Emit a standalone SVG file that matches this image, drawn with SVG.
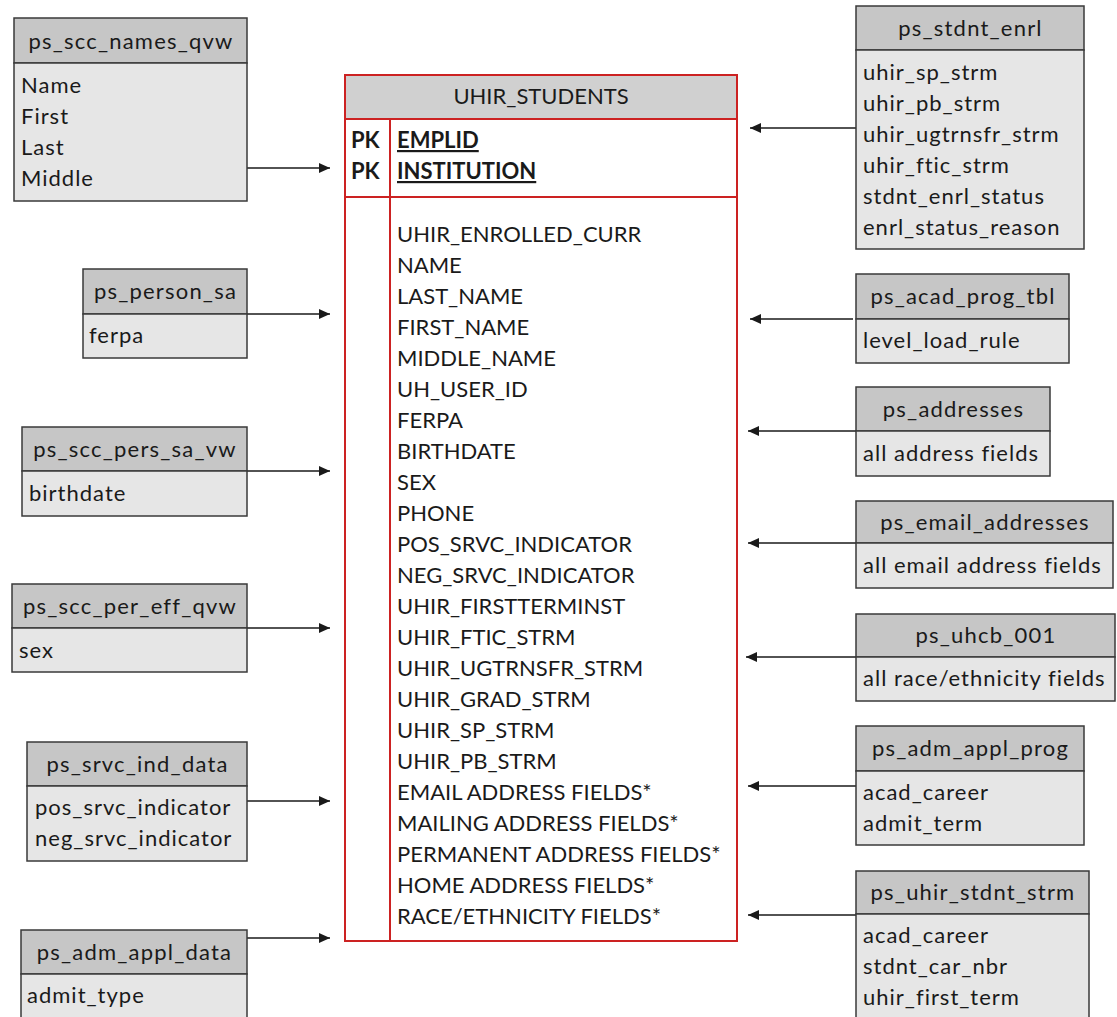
<svg xmlns="http://www.w3.org/2000/svg" width="1117" height="1017" viewBox="0 0 1117 1017">
<style>
text{font-family:Lato,"Liberation Sans",sans-serif;font-size:22px;fill:#1a1a1a}
.hd{fill:#c6c6c6;stroke:#3a3a3a;stroke-width:1.5}
.bd{fill:#e6e6e6;stroke:#3a3a3a;stroke-width:1.5}
.ht{text-anchor:middle}
.lh{letter-spacing:1.2px}
.lb{letter-spacing:1px}
.red{fill:none;stroke:#cc2222;stroke-width:2}
.b{font-weight:bold}
.u{text-decoration:underline}
.c{stroke:#1a1a1a;stroke-width:1.5;fill:none;marker-end:url(#ah)}
</style>
<defs>
<marker id="ah" markerUnits="userSpaceOnUse" markerWidth="12" markerHeight="10" refX="11" refY="5" orient="auto">
<path d="M0,0 L11,5 L0,10 z" fill="#1a1a1a"/>
</marker>
</defs>
<rect width="1117" height="1017" fill="#ffffff"/>

<g id="connectors">
<line class="c" x1="247" y1="168" x2="330" y2="168"/>
<line class="c" x1="247" y1="314" x2="330" y2="314"/>
<line class="c" x1="247" y1="471" x2="330" y2="471"/>
<line class="c" x1="247" y1="628" x2="330" y2="628"/>
<line class="c" x1="247" y1="801" x2="330" y2="801"/>
<line class="c" x1="247" y1="938" x2="330" y2="938"/>
<line class="c" x1="856" y1="128" x2="750" y2="128"/>
<line class="c" x1="853" y1="319" x2="750" y2="319"/>
<line class="c" x1="856" y1="431" x2="748" y2="431"/>
<line class="c" x1="856" y1="543" x2="748" y2="543"/>
<line class="c" x1="856" y1="657" x2="746" y2="657"/>
<line class="c" x1="856" y1="786" x2="748" y2="786"/>
<line class="c" x1="856" y1="915" x2="748" y2="915"/>
</g>

<g id="uhir_students">
<rect x="345" y="75" width="392" height="44" fill="#d0d0d0"/>
<rect x="345" y="119" width="392" height="822" fill="#ffffff"/>
<rect class="red" x="345" y="75" width="392" height="866"/>
<line class="red" x1="345" y1="119" x2="737" y2="119"/>
<line class="red" x1="345" y1="197" x2="737" y2="197"/>
<line class="red" x1="390" y1="119" x2="390" y2="941"/>
<text class="ht" x="541" y="104">UHIR_STUDENTS</text>
<text class="b" x="351" y="148">PK</text>
<text class="b" x="351" y="179">PK</text>
<text class="b u" x="397" y="148">EMPLID</text>
<text class="b u" x="397" y="179">INSTITUTION</text>
<text x="397" y="242">UHIR_ENROLLED_CURR</text>
<text x="397" y="273">NAME</text>
<text x="397" y="304">LAST_NAME</text>
<text x="397" y="335">FIRST_NAME</text>
<text x="397" y="366">MIDDLE_NAME</text>
<text x="397" y="397">UH_USER_ID</text>
<text x="397" y="428">FERPA</text>
<text x="397" y="459">BIRTHDATE</text>
<text x="397" y="490">SEX</text>
<text x="397" y="521">PHONE</text>
<text x="397" y="552">POS_SRVC_INDICATOR</text>
<text x="397" y="583">NEG_SRVC_INDICATOR</text>
<text x="397" y="614">UHIR_FIRSTTERMINST</text>
<text x="397" y="645">UHIR_FTIC_STRM</text>
<text x="397" y="676">UHIR_UGTRNSFR_STRM</text>
<text x="397" y="707">UHIR_GRAD_STRM</text>
<text x="397" y="738">UHIR_SP_STRM</text>
<text x="397" y="769">UHIR_PB_STRM</text>
<text x="397" y="800">EMAIL ADDRESS FIELDS*</text>
<text x="397" y="831">MAILING ADDRESS FIELDS*</text>
<text x="397" y="862">PERMANENT ADDRESS FIELDS*</text>
<text x="397" y="893">HOME ADDRESS FIELDS*</text>
<text x="397" y="924">RACE/ETHNICITY FIELDS*</text>
</g>

<g id="ps_scc_names_qvw">
<rect class="hd" x="14" y="18" width="233" height="45"/>
<rect class="bd" x="14" y="63" width="233" height="138"/>
<text class="ht lh" x="131" y="49">ps_scc_names_qvw</text>
<text class="lb" x="21" y="93">Name</text>
<text class="lb" x="21" y="124">First</text>
<text class="lb" x="21" y="155">Last</text>
<text class="lb" x="21" y="186">Middle</text>
</g>

<g id="ps_person_sa">
<rect class="hd" x="83" y="269" width="164" height="45"/>
<rect class="bd" x="83" y="314" width="164" height="44"/>
<text class="ht lh" x="165.5" y="299">ps_person_sa</text>
<text class="lb" x="89" y="343">ferpa</text>
</g>

<g id="ps_scc_pers_sa_vw">
<rect class="hd" x="22" y="427" width="225" height="44"/>
<rect class="bd" x="22" y="471" width="225" height="45"/>
<text class="ht lh" x="135" y="457">ps_scc_pers_sa_vw</text>
<text class="lb" x="29" y="501">birthdate</text>
</g>

<g id="ps_scc_per_eff_qvw">
<rect class="hd" x="12" y="584" width="235" height="44"/>
<rect class="bd" x="12" y="628" width="235" height="44"/>
<text class="ht lh" x="130" y="614">ps_scc_per_eff_qvw</text>
<text class="lb" x="19" y="658">sex</text>
</g>

<g id="ps_srvc_ind_data">
<rect class="hd" x="27" y="742" width="220" height="44"/>
<rect class="bd" x="27" y="786" width="220" height="75"/>
<text class="ht lh" x="137.5" y="772">ps_srvc_ind_data</text>
<text class="lb" x="35" y="815">pos_srvc_indicator</text>
<text class="lb" x="35" y="846">neg_srvc_indicator</text>
</g>

<g id="ps_adm_appl_data">
<rect class="hd" x="21" y="930" width="226" height="44"/>
<rect class="bd" x="21" y="974" width="226" height="50"/>
<text class="ht lh" x="134.5" y="960">ps_adm_appl_data</text>
<text class="lb" x="27" y="1003">admit_type</text>
</g>

<g id="ps_stdnt_enrl">
<rect class="hd" x="856" y="6" width="228" height="44"/>
<rect class="bd" x="856" y="50" width="228" height="199"/>
<text class="ht lh" x="970.5" y="36">ps_stdnt_enrl</text>
<text class="lb" x="863" y="80">uhir_sp_strm</text>
<text class="lb" x="863" y="111">uhir_pb_strm</text>
<text class="lb" x="863" y="142">uhir_ugtrnsfr_strm</text>
<text class="lb" x="863" y="173">uhir_ftic_strm</text>
<text class="lb" x="863" y="204">stdnt_enrl_status</text>
<text class="lb" x="863" y="235">enrl_status_reason</text>
</g>

<g id="ps_acad_prog_tbl">
<rect class="hd" x="856" y="274" width="213" height="45"/>
<rect class="bd" x="856" y="319" width="213" height="44"/>
<text class="ht lh" x="963" y="304">ps_acad_prog_tbl</text>
<text class="lb" x="863" y="348">level_load_rule</text>
</g>

<g id="ps_addresses">
<rect class="hd" x="856" y="387" width="194" height="44"/>
<rect class="bd" x="856" y="431" width="194" height="45"/>
<text class="ht lh" x="953.5" y="417">ps_addresses</text>
<text class="lb" x="863" y="461">all address fields</text>
</g>

<g id="ps_email_addresses">
<rect class="hd" x="856" y="501" width="257" height="42"/>
<rect class="bd" x="856" y="543" width="257" height="45"/>
<text class="ht lh" x="985" y="530">ps_email_addresses</text>
<text class="lb" x="863" y="573">all email address fields</text>
</g>

<g id="ps_uhcb_001">
<rect class="hd" x="856" y="614" width="259" height="43"/>
<rect class="bd" x="856" y="657" width="259" height="44"/>
<text class="ht lh" x="986" y="643">ps_uhcb_001</text>
<text class="lb" x="863" y="686">all race/ethnicity fields</text>
</g>

<g id="ps_adm_appl_prog">
<rect class="hd" x="856" y="726" width="228" height="45"/>
<rect class="bd" x="856" y="771" width="228" height="74"/>
<text class="ht lh" x="970.5" y="756">ps_adm_appl_prog</text>
<text class="lb" x="863" y="800">acad_career</text>
<text class="lb" x="863" y="831">admit_term</text>
</g>

<g id="ps_uhir_stdnt_strm">
<rect class="hd" x="856" y="871" width="233" height="43"/>
<rect class="bd" x="856" y="914" width="233" height="110"/>
<text class="ht lh" x="973" y="900">ps_uhir_stdnt_strm</text>
<text class="lb" x="863" y="943">acad_career</text>
<text class="lb" x="863" y="974">stdnt_car_nbr</text>
<text class="lb" x="863" y="1005">uhir_first_term</text>
</g>
</svg>
